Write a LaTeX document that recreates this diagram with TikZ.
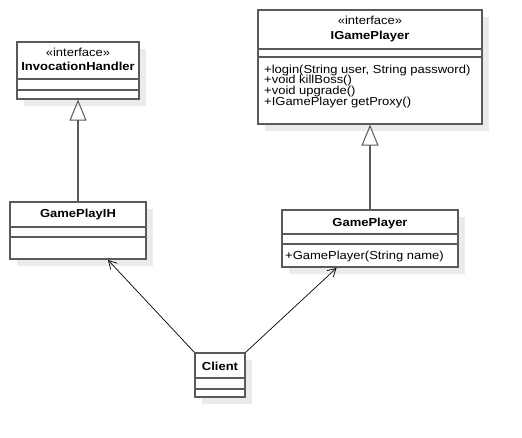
\documentclass[tikz,border=0pt]{standalone}
\usepackage{fontspec}
\setmainfont[FakeStretch=1.12]{Liberation Sans}
\usetikzlibrary{arrows.meta,calc}
\definecolor{boxline}{HTML}{5A5A5A}
\definecolor{shadowcol}{HTML}{EBEBEB}
\tikzset{
  classbox/.style={draw=boxline, line width=1.2pt, fill=white, inner sep=0pt},
  shadowbox/.style={fill=shadowcol, draw=none},
  divider/.style={draw=boxline, line width=1.2pt},
  txt/.style={inner sep=0pt, anchor=base, font=\fontsize{11.6}{10.7}\selectfont},
  btxt/.style={txt, font=\fontsize{11.6}{10.7}\selectfont\bfseries},
  mtxt/.style={txt, anchor=base west},
  realize/.style={draw=boxline, line width=1.2pt, -{Triangle[open, length=21pt, width=17pt, line width=1pt]}},
  assoc/.style={draw=black, line width=0.7pt, -{Straight Barb[length=8pt, width=9pt, line width=0.7pt]}}
}
\begin{document}
\begin{tikzpicture}[x=1pt, y=-1pt]
\useasboundingbox (0,0) rectangle (522,438);
% shadows
\path[shadowbox] (24,49) rectangle (146,106);
\path[shadowbox] (265,17) rectangle (489,131);
\path[shadowbox] (17,209) rectangle (153,266);
\path[shadowbox] (289,217) rectangle (465,274);
\path[shadowbox] (202,360) rectangle (252,404);
% boxes
\node[classbox, minimum width=122pt, minimum height=57pt] (ih) at (78,70.5) {};
\node[classbox, minimum width=224pt, minimum height=114pt] (igp) at (370,67) {};
\node[classbox, minimum width=136pt, minimum height=57pt] (gpih) at (78,230.5) {};
\node[classbox, minimum width=176pt, minimum height=57pt] (gp) at (370,238.5) {};
\node[classbox, minimum width=50pt, minimum height=44pt] (cl) at (220,375) {};
% dividers
\draw[divider] (ih.west |- 0,79) -- (ih.east |- 0,79);
\draw[divider] (ih.west |- 0,90) -- (ih.east |- 0,90);
\draw[divider] (igp.west |- 0,49) -- (igp.east |- 0,49);
\draw[divider] (igp.west |- 0,57) -- (igp.east |- 0,57);
\draw[divider] (gpih.west |- 0,227) -- (gpih.east |- 0,227);
\draw[divider] (gpih.west |- 0,237) -- (gpih.east |- 0,237);
\draw[divider] (gp.west |- 0,234) -- (gp.east |- 0,234);
\draw[divider] (gp.west |- 0,244) -- (gp.east |- 0,244);
\draw[divider] (cl.west |- 0,378) -- (cl.east |- 0,378);
\draw[divider] (cl.west |- 0,389) -- (cl.east |- 0,389);
% texts
\node[txt] (ihs) at (78,56.7) {«interface»};
\node[btxt] (iht) at (78,70.7) {InvocationHandler};
\node[txt] (igps) at (370,25) {«interface»};
\node[btxt] (igpt) at (370,40) {IGamePlayer};
\node[mtxt] (m1) at (264,73.3) {+login(String user, String password)};
\node[mtxt] (m2) at (264,84) {+void killBoss()};
\node[mtxt] (m3) at (264,94.7) {+void upgrade()};
\node[mtxt] (m4) at (264,105.4) {+IGamePlayer getProxy()};
\node[btxt] (gpiht) at (78,218) {GamePlayIH};
\node[btxt] (gpt) at (370,226.7) {GamePlayer};
\node[mtxt] (gpm) at (285,260) {+GamePlayer(String name)};
\node[btxt] (clt) at (220,370) {Client};
% connectors
\draw[realize] (gpih.north) -- (ih.south);
\draw[realize] (gp.north) -- (igp.south);
\coordinate (e1) at (108,260);
\coordinate (e2) at (336.5,268);
\draw[assoc] (cl.north west) -- (e1);
\draw[assoc] (cl.north east) -- (e2);
\end{tikzpicture}
\end{document}
